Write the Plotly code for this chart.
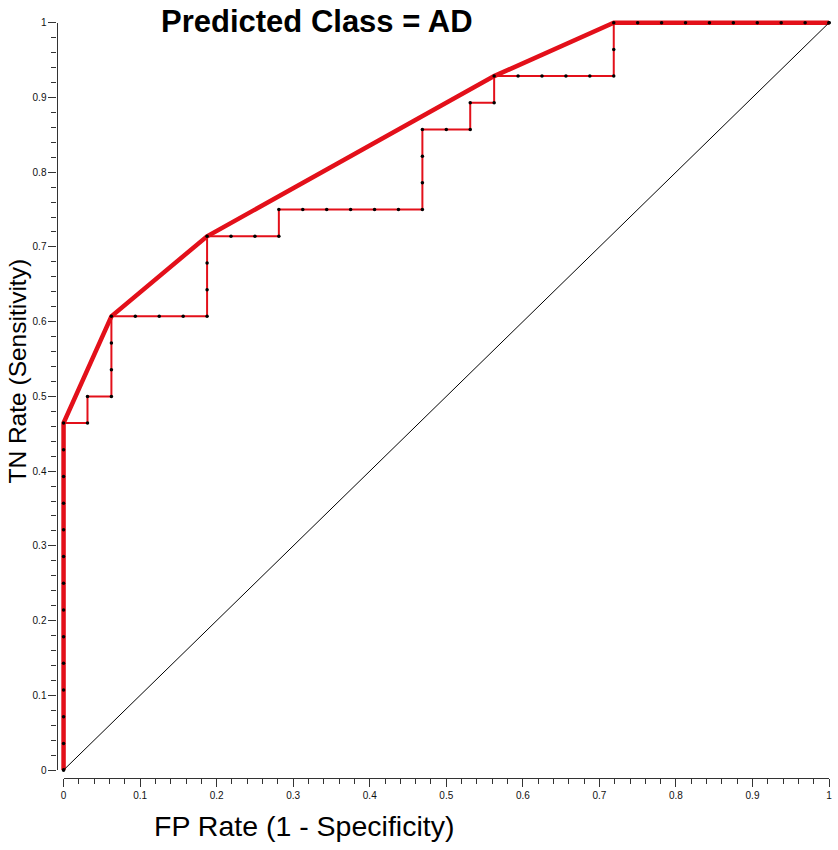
import plotly.graph_objects as go

# ROC counts: 32 negatives, 28 positives
n_neg = 32
n_pos = 28

# empirical step curve (false positives, true positives) at every step
step_fp = [0, 0, 0, 0, 0, 0, 0, 0, 0, 0, 0, 0, 0, 0,
           1, 1, 2, 2, 2, 2, 3, 4, 5, 6, 6, 6, 6,
           7, 8, 9, 9, 10, 11, 12, 13, 14, 15, 15, 15, 15,
           16, 17, 17, 18, 18, 19, 20, 21, 22, 23, 23, 23,
           24, 25, 26, 27, 28, 29, 30, 31, 32]
step_tp = [0, 1, 2, 3, 4, 5, 6, 7, 8, 9, 10, 11, 12, 13,
           13, 14, 14, 15, 16, 17, 17, 17, 17, 17, 18, 19, 20,
           20, 20, 20, 21, 21, 21, 21, 21, 21, 21, 22, 23, 24,
           24, 24, 25, 25, 26, 26, 26, 26, 26, 26, 27, 28,
           28, 28, 28, 28, 28, 28, 28, 28, 28]

# convex hull vertices
hull_fp = [0, 0, 2, 6, 18, 23, 32]
hull_tp = [0, 13, 17, 20, 26, 28, 28]

chance_x = [0, 1]
chance_y = [0, 1]

TITLE = "Predicted Class = AD"
X_TITLE = "FP Rate (1 - Specificity)"
Y_TITLE = "TN Rate (Sensitivity)"

RED = "#e3101a"
AXIS = "#333333"
W, H = 838, 850

# screenshot comes out slightly shrunk, undo it when placing things
SX, AX = 0.9935, 2.4
SY, AY = 0.988, 4.25


def fx(p):
    return min(1.0, max(0.0, ((p - AX) / SX) / W))


def fy(p):
    return min(1.0, max(0.0, 1 - ((p - AY) / SY) / H))


step_x = [v / n_neg for v in step_fp]
step_y = [v / n_pos for v in step_tp]
hull_x = [v / n_neg for v in hull_fp]
hull_y = [v / n_pos for v in hull_tp]

fig = go.Figure()

fig.add_trace(go.Scatter(
    x=hull_x, y=hull_y, mode="lines",
    line=dict(color=RED, width=4.5), hoverinfo="skip",
))
fig.add_trace(go.Scatter(
    x=step_x, y=step_y, mode="lines+markers",
    line=dict(color=RED, width=2),
    marker=dict(color="black", size=3.5), cliponaxis=False,
))
# chance line lives on the display axes (exact 0..1)
fig.add_trace(go.Scatter(
    x=chance_x, y=chance_y, mode="lines+markers", xaxis="x2", yaxis="y2",
    line=dict(color="black", width=1), marker=dict(color="black", size=3.5),
    cliponaxis=False,
))

# where 0 and 1 sit in the reference picture
x0_px, x1_px = 63, 829
y0_px, y1_px = 770, 21
pad = 0.01
pad_r = 0.005
ux = x1_px - x0_px
uy = y0_px - y1_px

tick_font = dict(family="Liberation Sans, Arial, sans-serif", size=10, color="#111111")
minor = dict(dtick=0.02, ticks="outside", ticklen=5, tickcolor=AXIS, tickwidth=1)

fig.update_layout(
    width=W, height=H,
    margin=dict(l=0, r=0, t=0, b=0),
    paper_bgcolor="white", plot_bgcolor="rgba(0,0,0,0)",
    showlegend=False,
    # data axes, padded so thick lines on the edges are not clipped
    xaxis=dict(
        domain=[fx(x0_px - pad * ux), fx(x1_px + pad_r * ux)],
        range=[-pad, 1 + pad_r], visible=False, fixedrange=True,
    ),
    yaxis=dict(
        domain=[fy(y0_px + pad * uy), fy(y1_px - pad * uy)],
        range=[-pad, 1 + pad], visible=False, fixedrange=True,
    ),
    xaxis2=dict(
        domain=[fx(x0_px), fx(x1_px)], range=[0, 1],
        anchor="free", position=fy(777.5),
        showline=True, linecolor=AXIS, linewidth=1.2,
        ticks="outside", ticklen=8, tickcolor=AXIS, dtick=0.1, tick0=0,
        minor=minor, tickfont=tick_font, showgrid=False, zeroline=False,
        fixedrange=True,
    ),
    yaxis2=dict(
        domain=[fy(y0_px), fy(y1_px)], range=[0, 1],
        anchor="free", position=fx(56),
        showline=True, linecolor=AXIS, linewidth=1.2,
        ticks="outside", ticklen=8, tickcolor=AXIS, dtick=0.1, tick0=0,
        minor=minor, tickfont=tick_font, showgrid=False, zeroline=False,
        fixedrange=True,
    ),
)

fig.add_annotation(
    text=f"<b>{TITLE}</b>", xref="paper", yref="paper",
    x=fx(317), y=fy(20), xanchor="center", yanchor="middle",
    showarrow=False, font=dict(family="Liberation Sans, Arial, sans-serif", size=31, color="black"),
)
fig.add_annotation(
    text=X_TITLE, xref="paper", yref="paper",
    x=fx(304), y=fy(826), xanchor="center", yanchor="middle",
    showarrow=False, font=dict(family="Liberation Sans, Arial, sans-serif", size=28.5, color="black"),
)
fig.add_annotation(
    text=Y_TITLE, xref="paper", yref="paper", textangle=-90,
    x=fx(17), y=fy(370), xanchor="center", yanchor="middle",
    showarrow=False, font=dict(family="Liberation Sans, Arial, sans-serif", size=24.5, color="black"),
)

# drop the browser's default body margin so the figure sits at the page origin
fig.write_html(
    "out.html",
    config={"displayModeBar": False},
    post_script="document.body.style.margin='0';document.body.style.overflow='hidden';",
)
